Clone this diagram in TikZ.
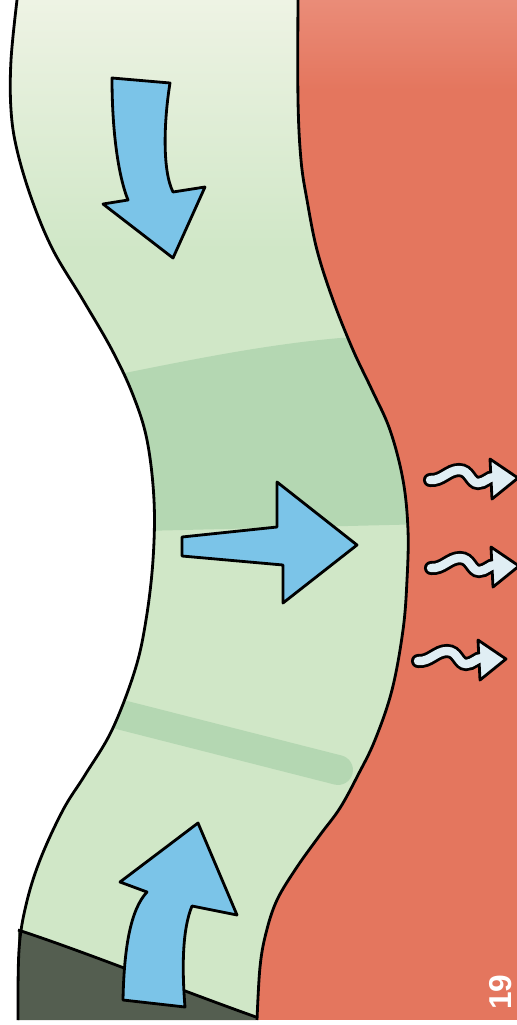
\documentclass[tikz,border=0pt]{standalone}
\usepackage{fontspec}
\setsansfont{Liberation Sans}
\usepackage{tikz}
\usepackage{xcolor}
\definecolor{leaf}{RGB}{208,231,199}
\definecolor{leaftop}{RGB}{238,243,228}
\definecolor{leafdark}{RGB}{180,215,178}
\definecolor{brick}{RGB}{228,118,94}
\definecolor{bricktop}{RGB}{234,140,120}
\definecolor{ground}{RGB}{84,94,80}
\definecolor{water}{RGB}{123,196,232}
\definecolor{mist}{RGB}{224,238,244}
\newcommand\leftbank{plot[smooth,tension=.6] coordinates {(17,0) (11,60) (11,110) (17,150) (32,200) (53,250) (83,300) (112,350) (133,395) (147,440) (154,500) (153,560) (146,620) (135,670) (112,730) (85,775) (63,810) (40,860) (26,905) (19,950) (18,1020)}}
\newcommand\rightbank{plot[smooth,tension=.6] coordinates {(298,0) (298,100) (301,160) (307,200) (317,250) (333,300) (353,350) (372,390) (390,430) (403,480) (408,530) (407,580) (403,630) (392,690) (375,740) (358,775) (340,808) (320,835) (297,867) (277,900) (266,933) (260,967) (257,1020)}}
\newcommand\heatwave{(0,0) .. controls (12,1) and (18,-10) .. (29,-10) .. controls (40,-10) and (40,3) .. (48,3) .. controls (55,3) and (58,-3) .. (64,-3)}

\begin{document}
\begin{tikzpicture}[x=0.02cm,y=-0.02cm,
  bank/.style={line width=1.6pt,line join=round},
  flow/.style={bank,fill=water},
  heat/.style={bank,fill=mist}]
\useasboundingbox (0,0) rectangle (517,1025);
\clip (0,0) rectangle (517,1025);
\fill[leaf] (0,0) rectangle (517,1020);
\begin{scope}
\clip \rightbank -- (0,1020) -- (0,0) -- cycle;
\shade[top color=leaftop,bottom color=leaf] (0,0) rectangle (517,250);
\fill[leafdark] (100,378) .. controls (180,362) and (260,345) .. (340,338) -- (430,336) -- (430,524) -- (100,532) -- cycle;
\draw[leafdark,line width=17pt,line cap=round] (110,712) -- (338,770);
\end{scope}
\begin{scope}
\clip \rightbank -- (517,1020) -- (517,0) -- cycle;
\fill[brick] (0,0) rectangle (517,1020);
\shade[top color=bricktop,bottom color=brick] (290,0) rectangle (517,90);
\end{scope}
\fill[white] \leftbank -- (0,1020) -- (0,0) -- cycle;
\fill[ground] (18,930) .. controls (80,950) and (180,990) .. (256,1017) -- (256,1020) -- (18,1020) -- cycle;
\draw[bank] (18,930) .. controls (80,950) and (180,990) .. (256,1017);
\draw[bank] \leftbank;
\draw[bank] \rightbank;
\draw[flow] (112,78) -- (170,83) .. controls (164,120) and (162,170) .. (173,192) -- (205,187) -- (173,258) -- (103,204) -- (128,200) .. controls (118,175) and (112,130) .. (112,78) -- cycle;
\draw[flow] (182,537) -- (277,527) -- (277,482) -- (357,545) -- (283,603) -- (283,565) -- (182,556) -- cycle;
\draw[flow] (123,1000) .. controls (124,950) and (130,910) .. (147,892) -- (120,882) -- (198,823) -- (237,915) -- (192,906) .. controls (182,930) and (182,970) .. (185,1007) -- cycle;
\foreach \x/\y in {430/480,431/568,418/661}{
  \begin{scope}[shift={(\x,\y)}]
  \draw[line width=8pt,line cap=round] \heatwave;
  \draw[heat] (60,-21) -- (88,-2) -- (62,19) -- cycle;
  \draw[mist,line width=4.8pt,line cap=round] \heatwave;
  \end{scope}}
\node[text=white,rotate=90,inner sep=1pt,font=\fontsize{18}{18}\selectfont\sffamily\bfseries] (page) at (501,992) {19};
\end{tikzpicture}
\end{document}
